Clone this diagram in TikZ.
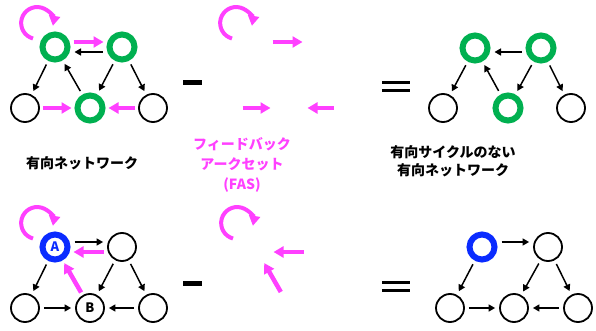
\documentclass[tikz,border=0pt]{standalone}
\usepackage{fontspec}
\newfontfamily\jpfont{Noto Sans CJK JP}
\usetikzlibrary{arrows.meta}
\definecolor{hubgreen}{HTML}{00B050}
\definecolor{rootblue}{HTML}{0A2BFF}
\definecolor{fasmag}{HTML}{FF40FF}

\begin{document}
\begin{tikzpicture}[x=1pt, y=1pt,
  plain/.style={circle, draw, line width=1.8pt, minimum size=28pt, inner sep=0pt, font=\jpfont\bfseries\fontsize{13}{13}\selectfont},
  hub/.style={circle, draw=hubgreen, line width=6pt, minimum size=25pt, inner sep=0pt},
  root/.style={hub, draw=rootblue, text=rootblue, font=\jpfont\bfseries\fontsize{13}{13}\selectfont},
  ghost/.style={hub, draw=none},
  arr/.style={-{Triangle[length=6.5pt, width=7pt]}, line width=1.5pt, shorten <=4pt, shorten >=4pt},
  fas/.style={-{Triangle[length=10pt, width=11pt]}, line width=4.5pt, fasmag, shorten <=3pt, shorten >=3pt},
  fasloop/.style={-{Triangle[length=10pt, width=11pt]}, line width=4pt, fasmag},
  minus/.style={line width=5pt},
  equal/.style={line width=3pt},
  caption/.style={font=\jpfont\bfseries\fontsize{14}{20}\selectfont, align=center}
]
  \useasboundingbox (0,0) rectangle (596,-331);

  % top row: network - FAS = DAG
  \node[hub] (net1A) at (55,-47) {};
  \node[hub] (net1B) at (122,-47) {};
  \node[plain] (net1L) at (25,-108) {};
  \node[hub] (net1M) at (90,-108) {};
  \node[plain] (net1R) at (153,-108) {};

  \node[ghost] (fas1A) at (254,-47) {};
  \node[ghost] (fas1B) at (321,-47) {};
  \node[ghost] (fas1L) at (224,-108) {};
  \node[ghost] (fas1M) at (289,-108) {};
  \node[ghost] (fas1R) at (352,-108) {};

  \node[hub] (dag1A) at (475,-48) {};
  \node[hub] (dag1B) at (541,-48) {};
  \node[plain] (dag1L) at (443,-108) {};
  \node[hub] (dag1M) at (508,-108) {};
  \node[plain] (dag1R) at (571,-108) {};

  \draw[fas] ([yshift=5pt]net1A.east) -- ([yshift=5pt]net1B.west);
  \draw[arr] ([yshift=-5pt]net1B.west) -- ([yshift=-5pt]net1A.east);
  \draw[arr] (net1A) -- (net1L);
  \draw[arr] (net1M) -- (net1A);
  \draw[arr] (net1B) -- (net1M);
  \draw[arr] (net1B) -- (net1R);
  \draw[fas] (net1L) -- (net1M);
  \draw[fas] (net1R) -- (net1M);
  \draw[fasloop] ([shift={(-22,8.5)}]net1A.center) arc[start angle=255, end angle=-10, radius=16];

  \draw[fas] ([yshift=5pt]fas1A.east) -- ([yshift=5pt]fas1B.west);
  \draw[fas] (fas1L) -- (fas1M);
  \draw[fas] (fas1R) -- (fas1M);
  \draw[fasloop] ([shift={(-22,8.5)}]fas1A.center) arc[start angle=255, end angle=-10, radius=16];

  \draw[arr] ([yshift=-4pt]dag1B.west) -- ([yshift=-4pt]dag1A.east);
  \draw[arr] (dag1A) -- (dag1L);
  \draw[arr] (dag1M) -- (dag1A);
  \draw[arr] (dag1B) -- (dag1M);
  \draw[arr] (dag1B) -- (dag1R);

  \draw[minus] (183,-83) -- (202,-83);
  \draw[equal] (382,-83) -- (410,-83);
  \draw[equal] (382,-91) -- (410,-91);

  \node[caption] (netcap) at (82,-163) {有向ネットワーク};
  \node[caption, text=fasmag] (fascap) at (242,-165) {フィードバック\\アークセット\\(FAS)};
  \node[caption, font=\jpfont\bfseries\fontsize{14}{18}\selectfont] (dagcap) at (453,-161) {有向サイクルのない\\有向ネットワーク};

  % bottom row
  \node[root] (net2A) at (55,-247) {A};
  \node[plain] (net2B) at (122,-247) {};
  \node[plain] (net2L) at (25,-308) {};
  \node[plain] (net2M) at (90,-308) {B};
  \node[plain] (net2R) at (153,-308) {};

  \node[ghost] (fas2A) at (255,-247) {};
  \node[ghost] (fas2B) at (322,-247) {};
  \node[ghost] (fas2M) at (290,-308) {};

  \node[root] (dag2A) at (482,-247) {};
  \node[plain] (dag2B) at (548,-247) {};
  \node[plain] (dag2L) at (450,-308) {};
  \node[plain] (dag2M) at (514,-308) {};
  \node[plain] (dag2R) at (578,-308) {};

  \draw[arr] ([yshift=5pt]net2A.east) -- ([yshift=5pt]net2B.west);
  \draw[fas] ([yshift=-5pt]net2B.west) -- ([yshift=-5pt]net2A.east);
  \draw[arr] (net2A) -- (net2L);
  \draw[fas] (net2M) -- (net2A);
  \draw[arr] (net2B) -- (net2M);
  \draw[arr] (net2B) -- (net2R);
  \draw[arr] (net2L) -- (net2M);
  \draw[arr] (net2R) -- (net2M);
  \draw[fasloop] ([shift={(-22,8.5)}]net2A.center) arc[start angle=255, end angle=-10, radius=16];

  \draw[fas] ([yshift=-5pt]fas2B.west) -- ([yshift=-5pt]fas2A.east);
  \draw[fas] (fas2M) -- (fas2A);
  \draw[fasloop] ([shift={(-22,8.5)}]fas2A.center) arc[start angle=255, end angle=-10, radius=16];

  \draw[arr] ([yshift=5pt]dag2A.east) -- ([yshift=5pt]dag2B.west);
  \draw[arr] (dag2A) -- (dag2L);
  \draw[arr] (dag2B) -- (dag2M);
  \draw[arr] (dag2B) -- (dag2R);
  \draw[arr] (dag2L) -- (dag2M);
  \draw[arr] (dag2R) -- (dag2M);

  \draw[minus] (183,-283) -- (202,-283);
  \draw[equal] (382,-282) -- (410,-282);
  \draw[equal] (382,-290) -- (410,-290);
\end{tikzpicture}
\end{document}
